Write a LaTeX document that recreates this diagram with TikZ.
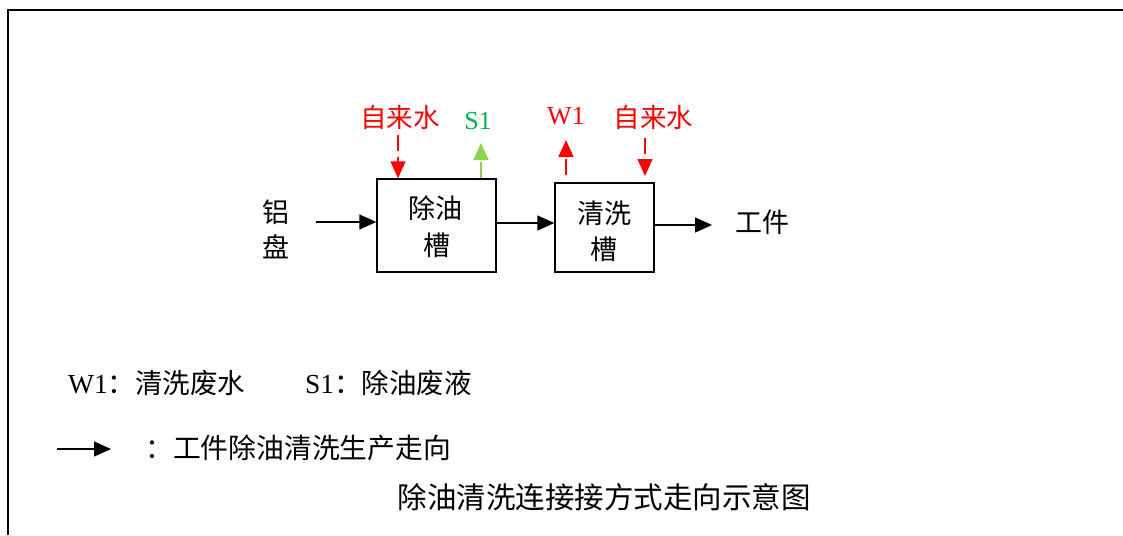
\documentclass[tikz,border=0pt]{standalone}
\usepackage{fontspec}
\setmainfont{Liberation Serif}
\newfontfamily\cjk{Noto Sans CJK SC}
\usetikzlibrary{arrows.meta}
\definecolor{myred}{RGB}{255,0,0}
\definecolor{sgreen}{RGB}{0,176,80}
\definecolor{agreen}{RGB}{146,208,80}
\begin{document}
\begin{tikzpicture}[x=1pt,y=-1pt,
  txt/.style={inner sep=0pt,font=\fontsize{27}{30}\selectfont\cjk},
  lat/.style={inner sep=0pt,font=\fontsize{26}{30}\selectfont},
  leg/.style={inner sep=0pt,font=\fontsize{27.5}{30}\selectfont},
  tank/.style={draw,line width=1.4pt,inner sep=0pt},
  flow/.style={line width=1.4pt,-{Triangle[length=17pt,width=15pt]}},
  side/.style={line width=1.4pt,dash pattern=on 16pt off 6pt,-{Triangle[length=17pt,width=15pt]}}]
\useasboundingbox (0,0) rectangle (1123,535);
\draw[line width=2pt] (8,535) -- (8,10) -- (1123,10);
% tanks
\node[tank,minimum width=119pt,minimum height=93pt] (b1) at (436.5,225.5) {};
\node[tank,minimum width=99pt,minimum height=89pt] (b2) at (604.5,227.5) {};
\node[txt] (b1a) at (435,208) {除油};
\node[txt] (b1b) at (437,245) {槽};
\node[txt] (b2a) at (604,213.5) {清洗};
\node[txt] (b2b) at (604,249) {槽};
% input / output
\node[txt] (lv1) at (276,212) {铝};
\node[txt] (lv2) at (276,247) {盘};
\node[txt] (gj) at (762,222) {工件};
\coordinate (in) at (316,222);
\coordinate (out) at (712,225);
\draw[flow] (in) -- (in -| b1.west);
\draw[flow] (b1.east |- 0,223) -- (b2.west |- 0,223);
\draw[flow] (b2.east |- out) -- (out);
% side streams
\node[txt,text=myred,font=\fontsize{26.5}{30}\selectfont\cjk] (w1in) at (400,117.5) {自来水};
\node[lat,text=sgreen] (s1) at (478,121) {S1};
\node[lat,text=myred] (w1) at (566,116) {W1};
\node[txt,text=myred,font=\fontsize{26.5}{30}\selectfont\cjk] (w2in) at (653.5,117) {自来水};
\coordinate (a1) at (398,135);
\coordinate (s1t) at (481,143);
\coordinate (w1s) at (566,175);
\coordinate (w1t) at (566,140);
\coordinate (a2s) at (645,138);
\coordinate (a2t) at (645,176);
\draw[side,myred] (a1) -- (a1 |- b1.north);
\draw[side,agreen] (s1t |- b1.north) -- (s1t);
\draw[side,myred] (w1s) -- (w1t);
\draw[side,myred] (a2s) -- (a2t);
% legend
\node[leg,anchor=west] (lg1) at (68,383) {W1\cjk：清洗废水};
\node[leg,anchor=west] (lg2) at (305,383) {S1\cjk：除油废液};
\coordinate (la) at (57,449);
\coordinate (lb) at (111,449);
\draw[flow] (la) -- (lb);
\node[leg,anchor=west,font=\fontsize{27.8}{30}\selectfont\cjk] (lg3) at (145,448) {：工件除油清洗生产走向};
\node[txt,font=\fontsize{29.5}{32}\selectfont\cjk] (cap) at (604,497) {除油清洗连接接方式走向示意图};
\end{tikzpicture}
\end{document}
